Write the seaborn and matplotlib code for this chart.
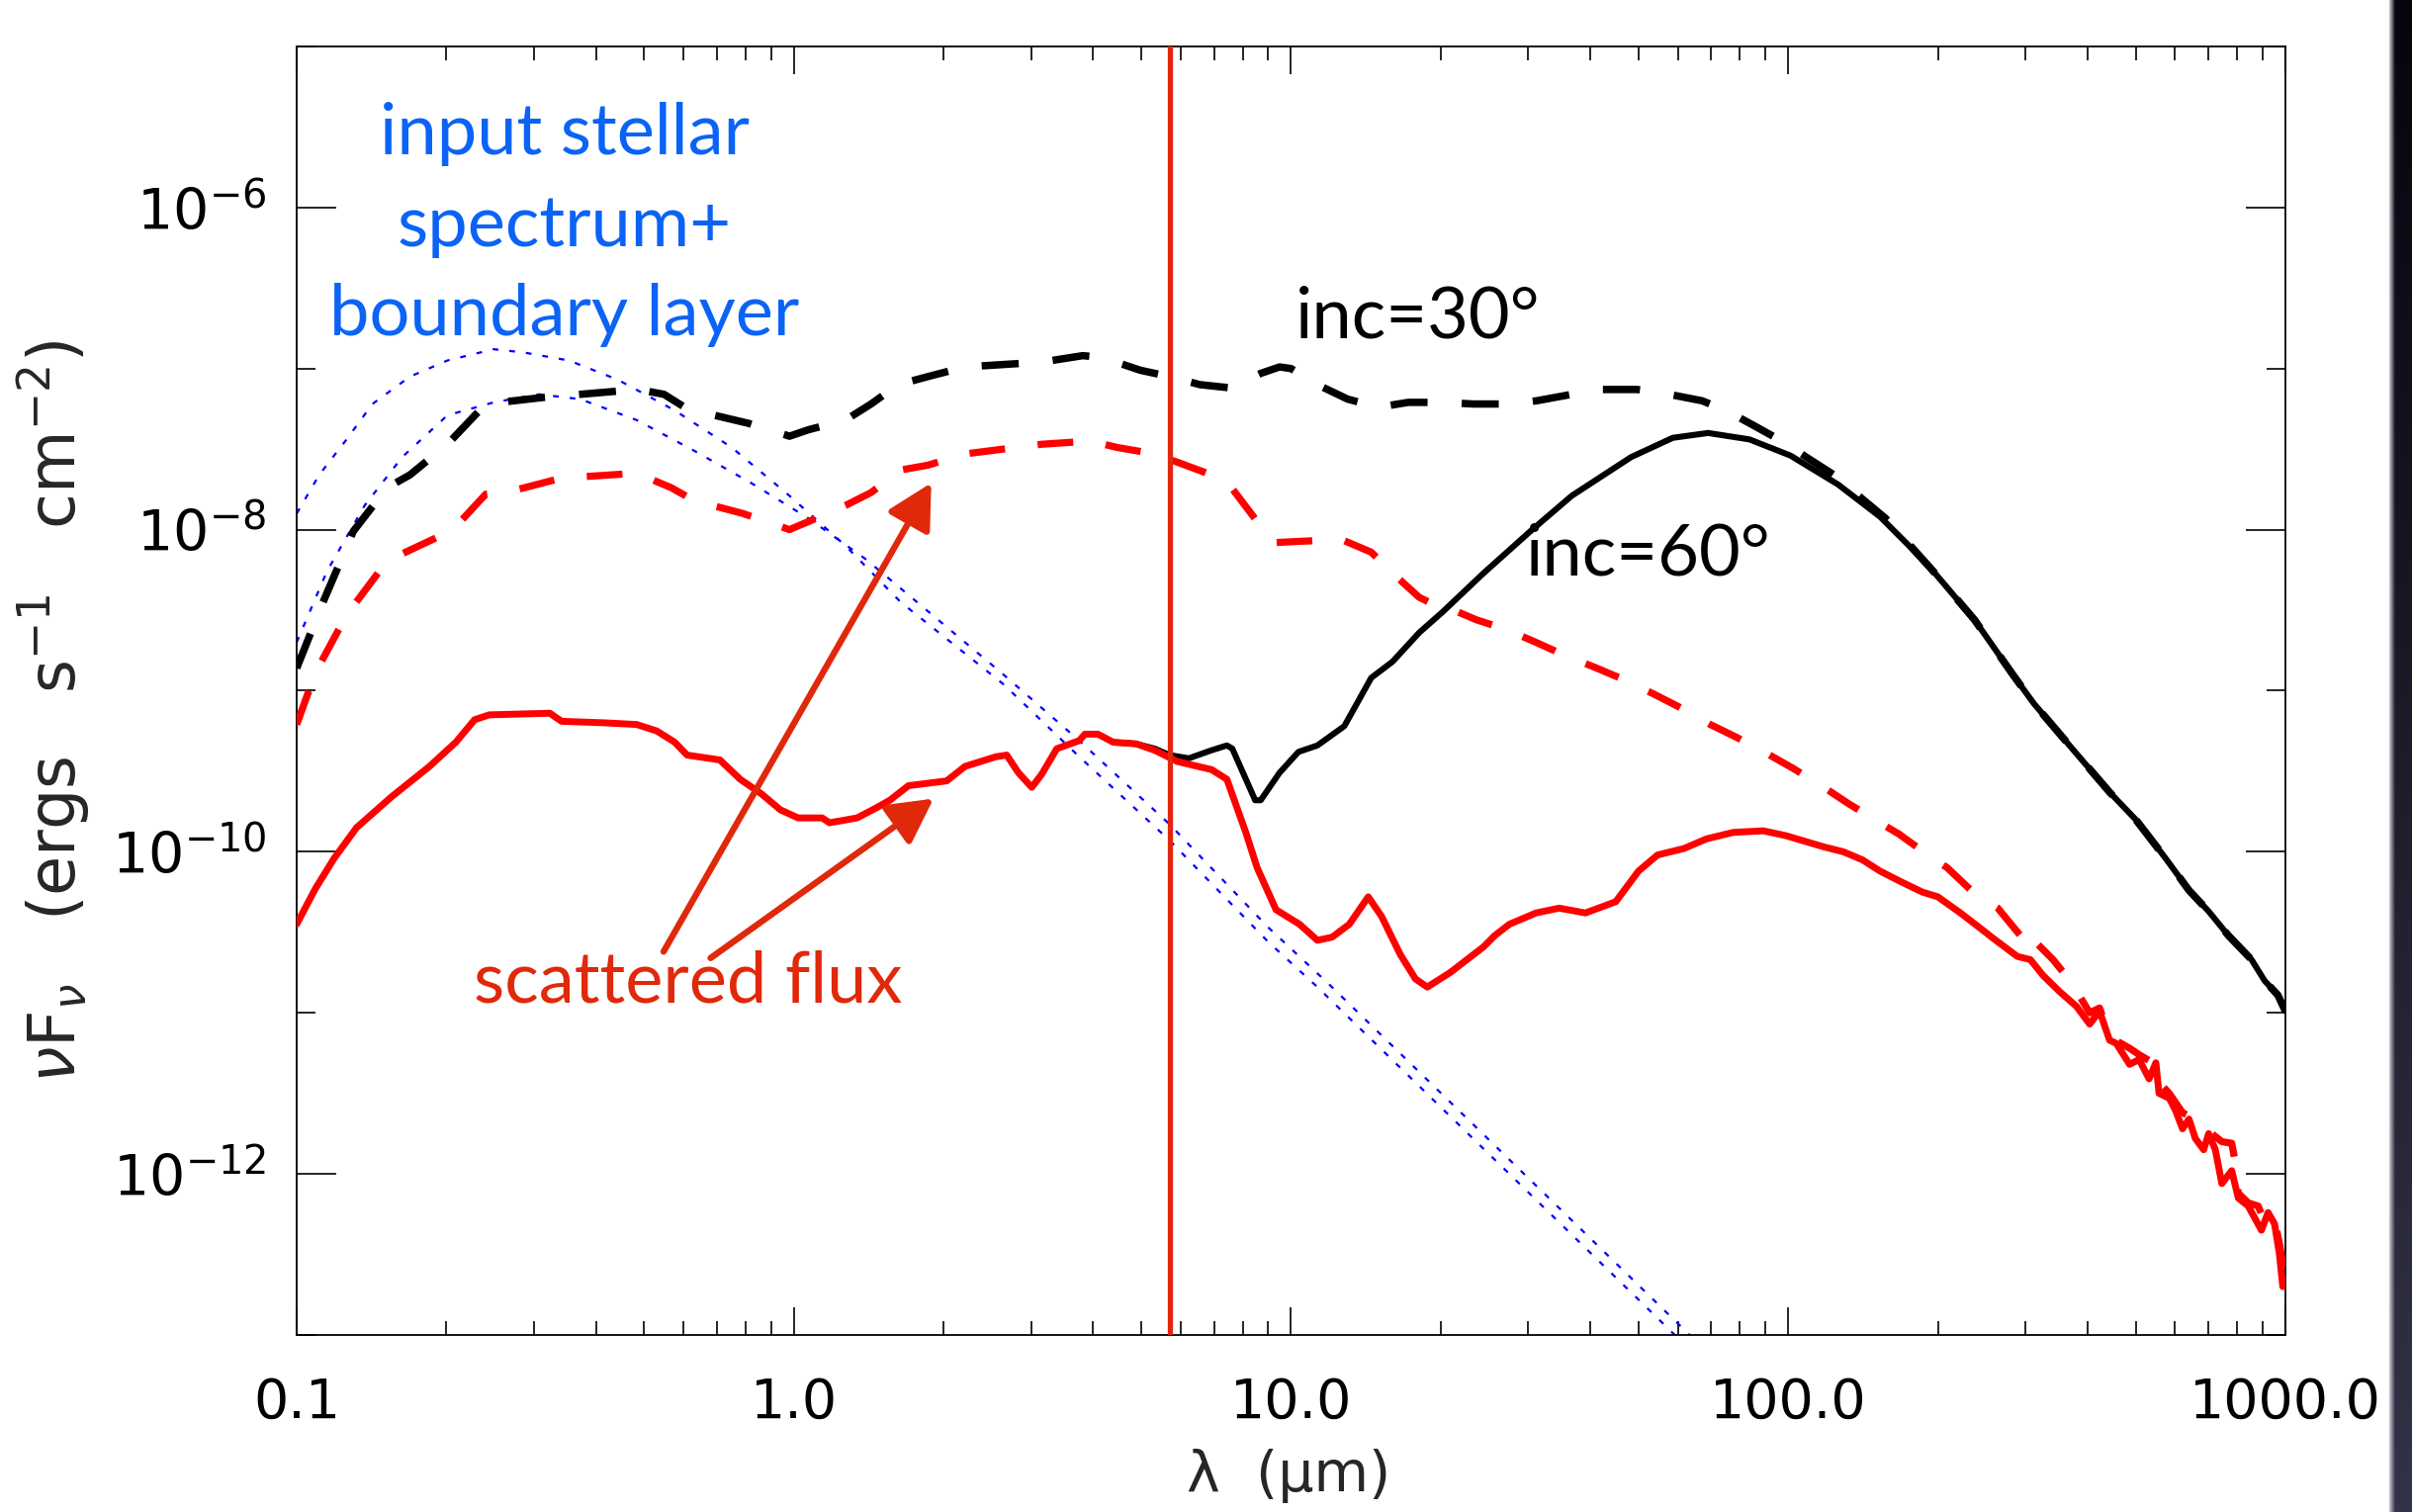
import numpy as np
import pandas as pd
import matplotlib
matplotlib.use("Agg")
import matplotlib.pyplot as plt
from matplotlib.ticker import FixedLocator, FixedFormatter, NullFormatter
import seaborn as sns

# ---------------- data (wavelength in micron, log10 of nuF_nu in erg s^-1 cm^-2) -------------
inc30_total_lam = [0.1, 0.113, 0.13, 0.152, 0.169, 0.201, 0.24, 0.312, 0.443, 0.467,
                   0.548, 0.61, 0.81, 0.98, 1.07, 1.27, 1.43, 1.62, 1.86, 2.21,
                   3.15, 3.81, 4.16, 4.97, 5.7, 6.56, 7.55, 8.69, 9.48, 10.0,
                   11.3, 13.0, 15.0, 17.2, 20.2, 23.2, 27.2, 31.2, 36.7, 42.2,
                   49.7, 55.4, 67.1, 75, 86, 97, 110, 125, 141, 157,
                   175, 196, 237, 283, 312, 375, 443, 500, 574, 640,
                   701, 768, 855, 908, 966, 1000]
inc30_total_logf = [-8.86, -8.45, -8.01, -7.74, -7.66, -7.47, -7.22, -7.18, -7.14, -7.12,
                    -7.16, -7.25, -7.34, -7.42, -7.38, -7.32, -7.22, -7.10, -7.05, -6.99,
                    -6.96, -6.92, -6.93, -7.01, -7.05, -7.10, -7.12, -7.03, -6.99, -7.00,
                    -7.10, -7.19, -7.24, -7.21, -7.21, -7.22, -7.22, -7.20, -7.16, -7.13,
                    -7.13, -7.15, -7.20, -7.26, -7.36, -7.45, -7.56, -7.67, -7.81, -7.93,
                    -8.09, -8.26, -8.56, -8.90, -9.08, -9.37, -9.63, -9.80, -10.04, -10.24,
                    -10.37, -10.52, -10.67, -10.80, -10.89, -10.99]

inc30_scat_lam = [0.1, 0.109, 0.126, 0.149, 0.163, 0.191, 0.212, 0.24, 0.271, 0.341,
                  0.483, 0.567, 0.63, 0.79, 0.98, 1.07, 1.27, 1.43, 1.64, 1.86,
                  2.21, 3.15, 3.95, 4.47, 5.32, 6.01, 6.92, 7.55, 8.55, 9.33,
                  10.9, 12.6, 14.5, 16.0, 18.1, 19.5, 20.5, 23.6, 27.1, 31.1,
                  35.5, 41.2, 46.6, 53.6, 61.1, 69.7, 78.8, 90.6, 102, 118,
                  132, 151, 167, 191, 209, 237, 264, 293, 305, 312,
                  341, 371, 404, 423, 443, 486, 508, 541, 549, 584,
                  621, 649, 685, 711, 745, 780, 790, 804, 842, 882,
                  908, 951, 975, 1000]
inc30_scat_logf = [-9.21, -8.89, -8.53, -8.23, -8.15, -8.05, -7.96, -7.78, -7.76, -7.68,
                   -7.65, -7.74, -7.82, -7.90, -8.00, -7.95, -7.85, -7.77, -7.63, -7.60,
                   -7.53, -7.47, -7.45, -7.49, -7.53, -7.59, -7.66, -7.73, -7.95, -8.08,
                   -8.07, -8.06, -8.14, -8.27, -8.42, -8.47, -8.48, -8.56, -8.62, -8.70,
                   -8.78, -8.86, -8.93, -9.02, -9.11, -9.21, -9.29, -9.39, -9.48, -9.60,
                   -9.70, -9.81, -9.89, -10.02, -10.10, -10.26, -10.35, -10.52, -10.47, -10.55,
                   -10.67, -10.81, -11.00, -10.97, -11.15, -11.22, -11.26, -11.31, -11.41, -11.50,
                   -11.62, -11.65, -11.72, -11.75, -11.80, -11.81, -11.90, -12.12, -12.18, -12.20,
                   -12.30, -12.28, -12.45, -12.68]

inc60_total_lam = [4.39, 4.88, 5.32, 5.7, 6.23, 6.92, 7.43, 7.62, 8.47, 8.69,
                   9.48, 10.35, 11.3, 12.8, 14.5, 16.0, 18.1, 20.2, 24.4, 30.3,
                   36.7, 48.3, 58.6, 69.0, 83.6, 101, 126, 153, 175, 196,
                   237, 283, 312, 375, 443, 500, 574, 640, 701, 768,
                   855, 908, 966, 1000]
inc60_total_logf = [-9.32, -9.33, -9.36, -9.40, -9.42, -9.37, -9.34, -9.36, -9.68, -9.68,
                    -9.51, -9.38, -9.34, -9.22, -8.92, -8.82, -8.64, -8.51, -8.27, -8.01,
                    -7.79, -7.55, -7.43, -7.40, -7.44, -7.54, -7.72, -7.92, -8.10, -8.26,
                    -8.56, -8.90, -9.08, -9.37, -9.63, -9.80, -10.04, -10.24, -10.37, -10.52,
                    -10.67, -10.80, -10.89, -10.99]

inc60_scat_lam = [0.1, 0.109, 0.119, 0.132, 0.155, 0.185, 0.209, 0.228, 0.244, 0.323,
                  0.341, 0.42, 0.483, 0.53, 0.576, 0.61, 0.71, 0.78, 0.86, 0.94,
                  1.02, 1.14, 1.18, 1.34, 1.46, 1.56, 1.70, 2.03, 2.21, 2.55,
                  2.68, 2.83, 3.01, 3.15, 3.38, 3.75, 3.85, 4.09, 4.39, 4.88,
                  5.32, 5.91, 6.92, 7.43, 8.11, 8.55, 9.33, 10.4, 11.3, 12.1,
                  13.1, 14.3, 15.2, 16.6, 17.8, 18.8, 20.9, 24.4, 25.7, 27.5,
                  31.1, 34.6, 39.1, 45.0, 50.0, 54.6, 61.7, 68.5, 77.5, 89.1,
                  98.9, 118, 129, 141, 153, 167, 186, 200, 222, 240,
                  259, 289, 307, 326, 352, 380, 404, 423, 443, 457,
                  486, 508, 532, 549, 557, 584, 602, 621, 640, 659,
                  685, 701, 723, 745, 780, 804, 842, 895, 923, 951,
                  973, 988, 1000]
inc60_scat_logf = [-10.45, -10.23, -10.04, -9.85, -9.66, -9.47, -9.32, -9.18, -9.15, -9.14,
                   -9.19, -9.20, -9.21, -9.25, -9.32, -9.40, -9.43, -9.55, -9.64, -9.74,
                   -9.79, -9.79, -9.82, -9.79, -9.73, -9.68, -9.59, -9.56, -9.47, -9.41,
                   -9.40, -9.51, -9.60, -9.52, -9.36, -9.31, -9.27, -9.27, -9.32, -9.33,
                   -9.37, -9.44, -9.49, -9.55, -9.88, -10.10, -10.36, -10.45, -10.55, -10.53,
                   -10.45, -10.28, -10.40, -10.64, -10.79, -10.84, -10.75, -10.59, -10.52, -10.45,
                   -10.38, -10.35, -10.38, -10.31, -10.12, -10.02, -9.98, -9.92, -9.88, -9.87,
                   -9.90, -9.97, -10.00, -10.05, -10.12, -10.18, -10.25, -10.28, -10.38, -10.46,
                   -10.54, -10.65, -10.67, -10.77, -10.87, -10.96, -11.07, -10.99, -11.17, -11.19,
                   -11.32, -11.29, -11.41, -11.31, -11.50, -11.53, -11.61, -11.72, -11.66, -11.78,
                   -11.85, -11.75, -11.85, -12.06, -11.98, -12.15, -12.20, -12.35, -12.24, -12.31,
                   -12.50, -12.70, -12.66]

star_bl_lam = [0.1, 0.111, 0.126, 0.142, 0.169, 0.201, 0.249, 0.286, 0.353, 0.443,
               0.576, 0.75, 0.98, 1.27, 1.64, 2.64, 3.75, 5.70, 9.0, 11.3, 70]
star_bl_logf = [-7.90, -7.66, -7.44, -7.22, -7.05, -6.95, -6.88, -6.90, -6.95, -7.07,
                -7.26, -7.49, -7.79, -8.10, -8.45, -8.96, -9.41, -9.93, -10.56, -10.84, -13.22]

star_lam = [0.1, 0.115, 0.137, 0.163, 0.201, 0.249, 0.307, 0.372, 0.483, 0.63,
            0.82, 1.07, 1.39, 1.59, 2.64, 3.75, 5.70, 9.0, 11.9, 70]
star_logf = [-8.70, -8.26, -7.85, -7.55, -7.29, -7.21, -7.16, -7.19, -7.32, -7.51,
             -7.71, -7.93, -8.18, -8.33, -8.90, -9.31, -9.83, -10.47, -10.82, -13.13]

marker_wavelength = 5.7

x_ticks = [0.1, 1.0, 10.0, 100.0, 1000.0]
x_ticklabels = ["0.1", "1.0", "10.0", "100.0", "1000.0"]
y_ticks = [1e-12, 1e-10, 1e-8, 1e-6]
y_ticklabels = [r"$10^{-12}$", r"$10^{-10}$", r"$10^{-8}$", r"$10^{-6}$"]
y_minor = [1e-13, 1e-11, 1e-9, 1e-7, 1e-5]

# arrows: (tail lambda, tail flux, head lambda, head flux)
arrow_up = (0.547, 10**-10.62, 1.89, 10**-7.71)
arrow_low = (0.68, 10**-10.66, 1.91, 10**-9.67)

# ---------------- styling ----------------
sns.set_style("ticks")
plt.rcParams["font.family"] = ["DejaVu Sans"]
plt.rcParams["mathtext.fontset"] = "dejavusans"

RED = "#ff0000"
ANN_RED = "#e0280b"
BLUE_TXT = "#0b63f6"

fig = plt.figure(figsize=(24.39, 15.29), dpi=100)
ax = fig.add_axes([0.1230, 0.1171, 0.8245, 0.8522])
ax.set_xscale("log")
ax.set_yscale("log")
ax.set_xlim(0.1, 1000.0)
ax.set_ylim(1e-13, 1e-5)


def draw(lam, logf, **kw):
    df = pd.DataFrame({"lam": lam, "flux": 10.0 ** np.asarray(logf)})
    sns.lineplot(data=df, x="lam", y="flux", ax=ax, estimator=None, sort=False, **kw)


dotted = (0, (2.6, 5.0))
dashed = (0, (5.0, 4.6))
draw(star_bl_lam, star_bl_logf, color="#0000ff", lw=1.6, linestyle=dotted, zorder=2)
draw(star_lam, star_logf, color="#0000ff", lw=1.6, linestyle=dotted, zorder=2)
draw(inc30_total_lam, inc30_total_logf, color="black", lw=5.4, linestyle=dashed, zorder=3)
draw(inc30_scat_lam, inc30_scat_logf, color=RED, lw=5.2, linestyle=dashed, zorder=3)
draw(inc60_total_lam, inc60_total_logf, color="black", lw=4.4, zorder=4)
draw(inc60_scat_lam, inc60_scat_logf, color=RED, lw=5.0, zorder=5)

ax.axvline(marker_wavelength, color="#e2260c", lw=3.8, zorder=6)

for tx, ty, hx, hy in (arrow_up, arrow_low):
    ax.annotate("", xy=(hx, hy), xytext=(tx, ty), xycoords="data", textcoords="data",
                arrowprops=dict(arrowstyle="-|>,head_length=0.6,head_width=0.32",
                                color=ANN_RED, lw=4.6, mutation_scale=46,
                                shrinkA=0, shrinkB=0), zorder=7)

# ticks
ax.xaxis.set_major_locator(FixedLocator(x_ticks))
ax.xaxis.set_major_formatter(FixedFormatter(x_ticklabels))
ax.xaxis.set_minor_locator(FixedLocator([m * d for d in (0.1, 1, 10, 100) for m in range(2, 10)]))
ax.xaxis.set_minor_formatter(NullFormatter())
ax.yaxis.set_major_locator(FixedLocator(y_ticks))
ax.yaxis.set_major_formatter(FixedFormatter(y_ticklabels))
ax.yaxis.set_minor_locator(FixedLocator(y_minor))
ax.yaxis.set_minor_formatter(NullFormatter())

ax.tick_params(axis="both", which="both", direction="in", top=True, right=True,
               width=1.2, colors="black")
ax.tick_params(axis="x", which="major", length=20, pad=30, labelsize=40)
ax.tick_params(axis="x", which="minor", length=10)
ax.tick_params(axis="y", which="major", length=29, pad=22, labelsize=41)
ax.tick_params(axis="y", which="minor", length=14)
for s in ax.spines.values():
    s.set_linewidth(1.3)
    s.set_color("black")

ax.set_xlabel("λ  (μm)", fontsize=41)
ax.xaxis.set_label_coords(0.499, -0.088)
ax.set_ylabel(r"$\nu$F$_\nu$   (ergs   s$^{-1}$   cm$^{-2}$)", fontsize=47)
ax.yaxis.set_label_coords(-0.103, 0.484)

# annotations
tfont = ["Lato", "DejaVu Sans"]
for txt, yy in (("input stellar", 0.9165), ("spectrum+", 0.845), ("boundary layer", 0.7757)):
    ax.text(0.1346, yy, txt, transform=ax.transAxes, ha="center", va="baseline",
            fontsize=52, color=BLUE_TXT, family=tfont)
ax.text(0.502, 0.774, "inc=30°", transform=ax.transAxes, ha="left", va="baseline",
        fontsize=52, color="black", family=tfont)
ax.text(0.618, 0.590, "inc=60°", transform=ax.transAxes, ha="left", va="baseline",
        fontsize=52, color="black", family=tfont)
ax.text(0.197, 0.258, "scattered flux", transform=ax.transAxes, ha="center", va="baseline",
        fontsize=52, color=ANN_RED, family=tfont)

# dark slide border on the right
bax = fig.add_axes([2416 / 2439, 0, 23 / 2439, 1])
bax.set_axis_off()
w, h = 23, 200
xs = np.linspace(0, 1, w)[None, :, None]
ys = np.linspace(0, 1, h)[:, None, None]
edge = np.clip(1 - xs * 4, 0, 1)
dark_top = np.array([0.02, 0.02, 0.05])
dark_bot = np.array([0.20, 0.20, 0.28])
base = dark_top * (1 - ys) + dark_bot * ys
img = base * (1 - edge) + np.array([0.75, 0.75, 0.80]) * edge
bax.imshow(img, aspect="auto", extent=[0, 1, 0, 1], origin="upper")

fig.savefig("out.png", dpi=100)
